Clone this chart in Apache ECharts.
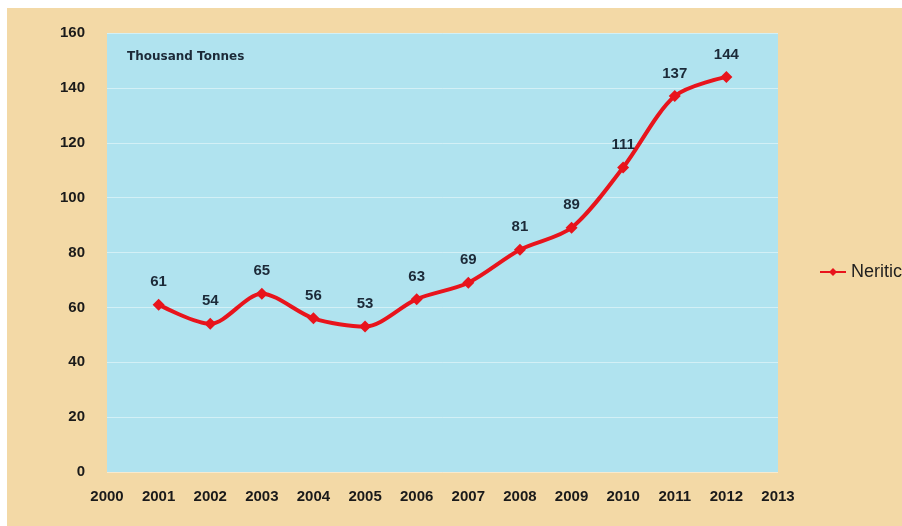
<!DOCTYPE html>
<html>
<head>
<meta charset="utf-8">
<title>Neritic catch</title>
<script src="https://cdn.jsdelivr.net/npm/echarts@6/dist/echarts.min.js"></script>
<style>
  html, body { margin: 0; padding: 0; background: #ffffff; }
  #chart { width: 902px; height: 526px; }
</style>
</head>
<body>
<div id="chart"></div>
<script>
// Years and catch (thousand tonnes)
const years = [2001, 2002, 2003, 2004, 2005, 2006, 2007, 2008, 2009, 2010, 2011, 2012];
const neritic = [61, 54, 65, 56, 53, 63, 69, 81, 89, 111, 137, 144];
const seriesName = 'Neritic';
const unitLabel = 'Thousand Tonnes';
const xRange = [2000, 2013];
const yRange = [0, 160];

const chart = echarts.init(document.getElementById('chart'));

const labelFont = 'Liberation Sans, Arial, sans-serif';

chart.setOption({
  backgroundColor: '#ffffff',
  animation: false,
  graphic: [
    {
      type: 'rect',
      z: -10,
      shape: { x: 7, y: 8, width: 895, height: 518 },
      style: { fill: '#f3d9a6' }
    },
    {
      type: 'text',
      left: 127,
      top: 51,
      z: 10,
      style: {
        text: unitLabel,
        font: 'bold 12px "DejaVu Sans", Verdana, sans-serif',
        fill: '#1c2a38'
      }
    }
  ],
  grid: {
    left: 107,
    right: 124,
    top: 33,
    bottom: 54,
    show: true,
    backgroundColor: '#b0e3ef',
    borderWidth: 0
  },
  legend: {
    left: 814,
    top: 258,
    itemWidth: 26,
    itemHeight: 10,
    itemGap: 2,
    textStyle: { fontSize: 18, color: '#1e1e1e', fontFamily: 'Liberation Sans, Arial, sans-serif' },
    data: [seriesName]
  },
  xAxis: {
    type: 'value',
    min: xRange[0],
    max: xRange[1],
    interval: 1,
    axisLine: { show: false },
    axisTick: { show: false },
    splitLine: { show: false },
    axisLabel: {
      margin: 17,
      fontSize: 15,
      fontWeight: 'bold',
      color: '#1a1a1a',
      fontFamily: labelFont,
      formatter: v => String(v)
    }
  },
  yAxis: {
    type: 'value',
    min: yRange[0],
    max: yRange[1],
    interval: 20,
    axisLine: { show: false },
    axisTick: { show: false },
    splitLine: { show: true, lineStyle: { color: 'rgba(255,255,255,0.45)', width: 1 } },
    axisLabel: {
      margin: 22,
      fontSize: 15,
      fontWeight: 'bold',
      color: '#1a1a1a',
      fontFamily: labelFont
    }
  },
  series: [{
    name: seriesName,
    type: 'line',
    smooth: 0.3,
    data: years.map((y, i) => [y, neritic[i]]),
    symbol: 'diamond',
    symbolSize: 12,
    itemStyle: { color: '#e8141c' },
    lineStyle: { color: '#e8141c', width: 4 },
    label: {
      show: true,
      position: 'top',
      distance: 9,
      fontSize: 15,
      fontWeight: 'bold',
      color: '#1c2a38',
      fontFamily: labelFont,
      formatter: p => p.value[1]
    }
  }]
});
</script>
</body>
</html>
